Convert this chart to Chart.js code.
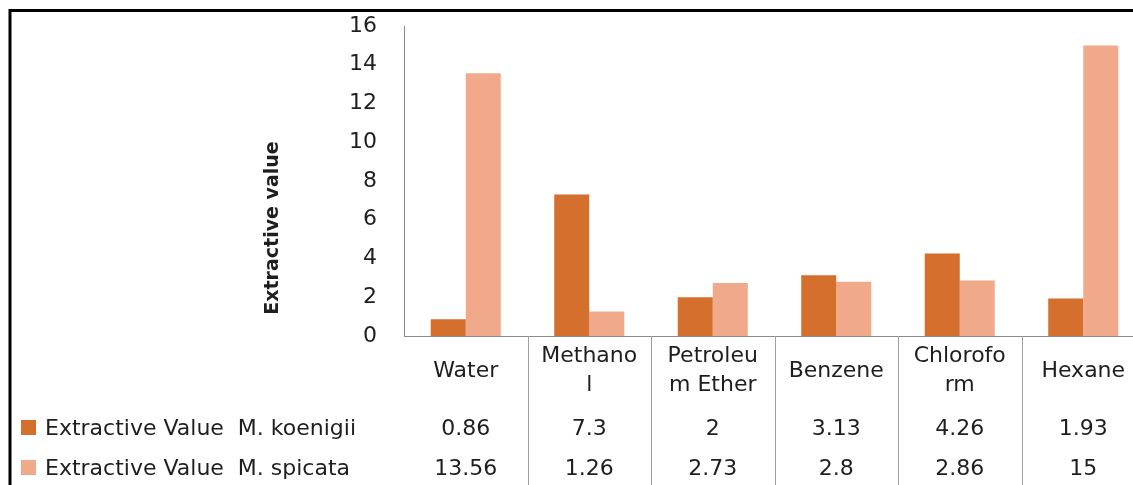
<!DOCTYPE html>
<html>
<head>
<meta charset="utf-8">
<title>Extractive value</title>
<script src="https://cdn.jsdelivr.net/npm/chart.js@4/dist/chart.umd.min.js"></script>
<style>
  html, body { margin: 0; padding: 0; background: #ffffff; overflow: hidden; }
  #wrap { position: relative; width: 1133px; height: 485px; overflow: hidden; }
  canvas { display: block; position: absolute; left: 0; top: 0; }
</style>
</head>
<body>
<div id="wrap"><canvas id="chart" width="1160" height="485"></canvas></div>
<script>
// Solvents (categories) and how their names wrap inside the data-table cells
const categories = ['Water', 'Methanol', 'Petroleum Ether', 'Benzene', 'Chloroform', 'Hexane'];
const categoryLines = [['Water'], ['Methano', 'l'], ['Petroleu', 'm Ether'], ['Benzene'], ['Chlorofo', 'rm'], ['Hexane']];

// Extractive values per solvent
const seriesNames = ['Extractive Value  M. koenigii', 'Extractive Value  M. spicata'];
const koenigii = [0.86, 7.3, 2, 3.13, 4.26, 1.93];
const spicata = [13.56, 1.26, 2.73, 2.8, 2.86, 15];

// Value-axis ticks
const yTicks = [0, 2, 4, 6, 8, 10, 12, 14, 16];
const axisTitle = 'Extractive value';

const FONT = '"DejaVu Sans", "Liberation Sans", sans-serif';
const TEXT = '#1e1e1e';
const AXIS = '#8a8a8a';
const DIVIDER = '#a0a0a0';
const colors = ['#D46F2D', '#F1A98B'];

// Outer frame, value-axis title and the data table under the plot
const decorations = {
  id: 'decorations',
  beforeDraw(chart) {
    const { ctx, width, height } = chart;
    ctx.save();
    ctx.fillStyle = '#ffffff';
    ctx.fillRect(0, 0, width, height);
    ctx.restore();
  },
  afterDraw(chart) {
    const { ctx, chartArea, width, height } = chart;
    const xs = chart.scales.x;
    const n = chart.data.labels.length;
    const cw = (chartArea.right - chartArea.left) / n;

    ctx.save();

    // frame (left and top edges)
    ctx.strokeStyle = '#000000';
    ctx.lineWidth = 3;
    ctx.beginPath();
    ctx.moveTo(10, height + 5);
    ctx.lineTo(10, 10.5);
    ctx.lineTo(width + 5, 10.5);
    ctx.stroke();

    // axis title
    ctx.fillStyle = TEXT;
    ctx.font = 'bold 19px ' + FONT;
    ctx.textAlign = 'center';
    ctx.textBaseline = 'middle';
    ctx.translate(273, 228);
    ctx.rotate(-Math.PI / 2);
    ctx.fillText(axisTitle, 0, 0);
    ctx.setTransform(1, 0, 0, 1, 0, 0);

    // table column dividers
    ctx.strokeStyle = DIVIDER;
    ctx.lineWidth = 1;
    for (let i = 1; i <= n; i++) {
      const px = Math.round(chartArea.left + i * cw) + 0.5;
      ctx.beginPath();
      ctx.moveTo(px, chartArea.bottom);
      ctx.lineTo(px, height);
      ctx.stroke();
    }

    // category names
    ctx.fillStyle = TEXT;
    ctx.font = '22px ' + FONT;
    ctx.textAlign = 'center';
    ctx.textBaseline = 'middle';
    const labelMid = 371, lineH = 29;
    categoryLines.forEach((lines, i) => {
      const cx = xs.getPixelForValue(i);
      const y0 = labelMid - (lines.length - 1) * lineH / 2;
      lines.forEach((t, k) => ctx.fillText(t, cx, y0 + k * lineH));
    });

    // series rows: legend key, name, values
    const rowY = [429, 469];
    chart.data.datasets.forEach((ds, r) => {
      const y = rowY[r];
      ctx.fillStyle = ds.backgroundColor;
      ctx.fillRect(21, y - 9, 15, 15);
      ctx.fillStyle = TEXT;
      ctx.textAlign = 'left';
      ctx.fillText(ds.label, 45, y);
      ctx.textAlign = 'center';
      ds.data.forEach((v, i) => {
        ctx.fillText(String(v), xs.getPixelForValue(i), y);
      });
    });

    ctx.restore();
  }
};

new Chart(document.getElementById('chart'), {
  type: 'bar',
  data: {
    labels: categories,
    datasets: [
      { label: seriesNames[0], data: koenigii, backgroundColor: colors[0], borderWidth: 0 },
      { label: seriesNames[1], data: spicata, backgroundColor: colors[1], borderWidth: 0 }
    ]
  },
  options: {
    responsive: false,
    animation: false,
    events: [],
    layout: { padding: { top: 26, right: 15, left: 0, bottom: 0 } },
    datasets: { bar: { categoryPercentage: 0.567, barPercentage: 1.0 } },
    plugins: { legend: { display: false }, tooltip: { enabled: false }, title: { display: false } },
    scales: {
      x: {
        grid: { display: false, drawTicks: false },
        border: { display: true, color: AXIS, width: 1 },
        ticks: { display: false },
        afterFit(scale) { scale.height = 149; }
      },
      y: {
        min: 0,
        max: 16,
        afterBuildTicks(scale) { scale.ticks = yTicks.map(v => ({ value: v })); },
        grid: { display: false, drawTicks: true, tickLength: 27 },
        border: { display: true, color: AXIS, width: 1 },
        ticks: { padding: 0, color: TEXT, font: { family: FONT, size: 22 } },
        afterFit(scale) { scale.width = 404; }
      }
    }
  },
  plugins: [decorations]
});
</script>
</body>
</html>
